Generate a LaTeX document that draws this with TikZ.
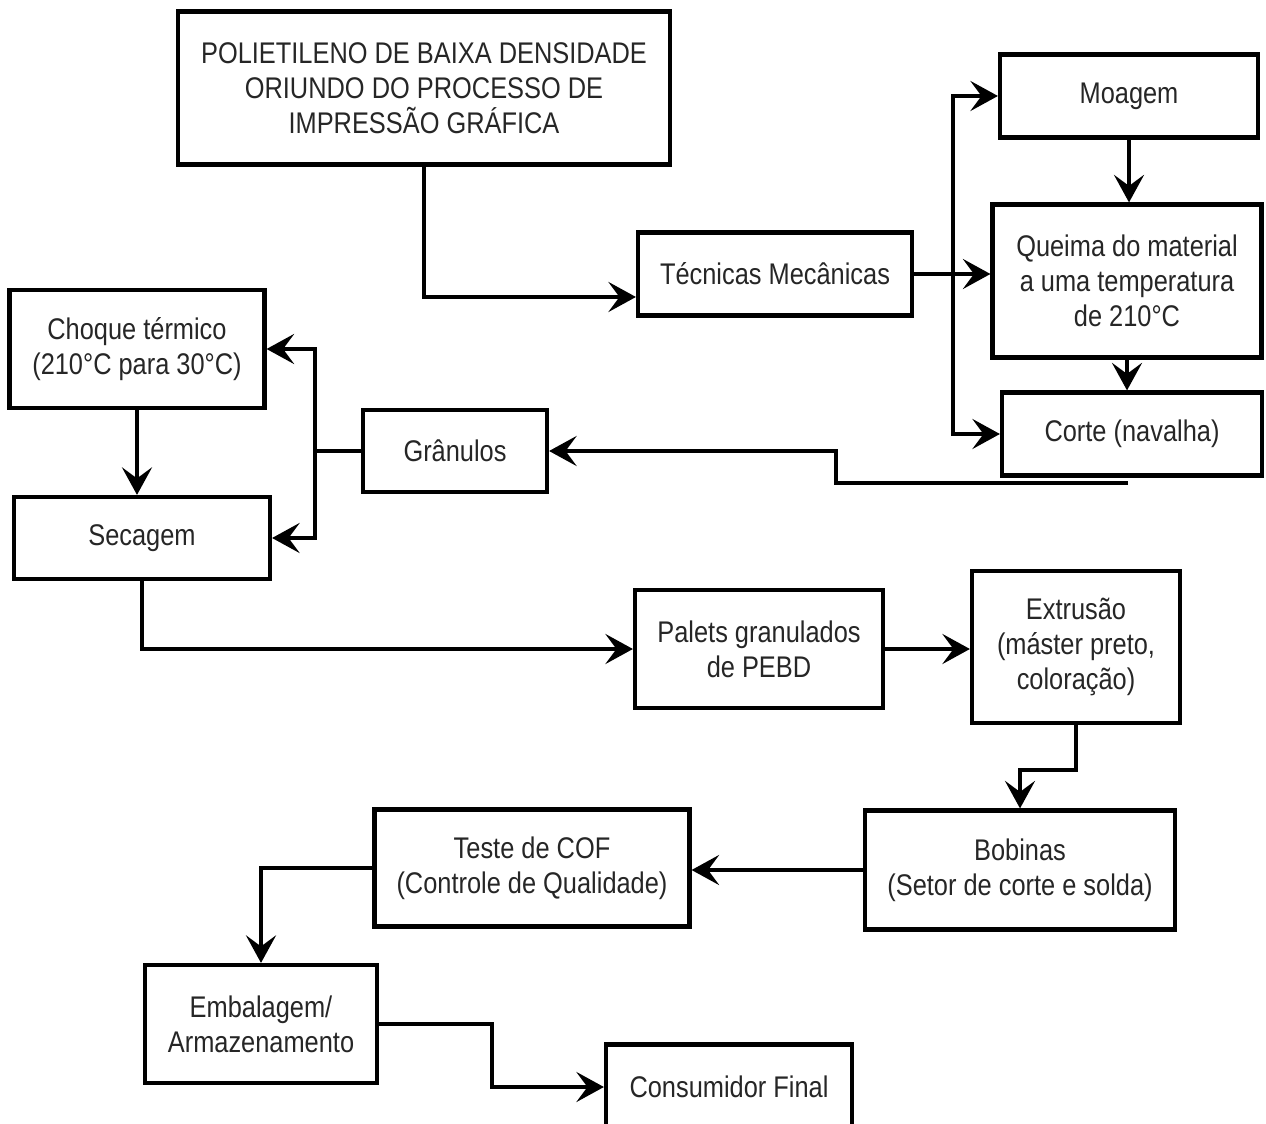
\documentclass[tikz,border=0pt]{standalone}
\usepackage{fontspec}
\setmainfont{Liberation Sans}[FakeStretch=0.85]
\usetikzlibrary{arrows.meta,positioning}
\tikzstyle{block}=[draw, line width=2.4pt, align=center, inner sep=2pt,
  text=black!85, font=\fontsize{17}{20}\selectfont]
\tikzstyle{flow}=[-{Stealth[length=0.55cm,width=0.6cm,inset=0.22cm]},
  line width=2.2pt]

\begin{document}
\begin{tikzpicture}[x=0.02cm, y=-0.02cm]
  \useasboundingbox (0,0) rectangle (1266,1124);

  \node[block, minimum width=9.84cm, minimum height=3.06cm] (poli) at (424,88)
    {POLIETILENO DE BAIXA DENSIDADE\\ORIUNDO DO PROCESSO DE\\IMPRESSÃO GRÁFICA};
  \node[block, minimum width=5.48cm, minimum height=1.66cm] (tec) at (775,274) {Técnicas Mecânicas};
  \node[block, minimum width=5.16cm, minimum height=1.66cm] (moa) at (1129,96) {Moagem};
  \node[block, minimum width=5.38cm, minimum height=3.06cm] (que) at (1127,281)
    {Queima do material\\a uma temperatura\\de 210°C};
  \node[block, minimum width=5.2cm, minimum height=1.66cm] (cor) at (1132,434) {Corte (navalha)};
  \node[block, minimum width=5.1cm, minimum height=2.36cm] (cho) at (137,349)
    {Choque térmico\\(210°C para 30°C)};
  \node[block, minimum width=3.68cm, minimum height=1.64cm] (gra) at (455,451) {Grânulos};
  \node[block, minimum width=5.12cm, minimum height=1.64cm] (sec) at (142,538) {Secagem};
  \node[block, minimum width=4.96cm, minimum height=2.36cm] (pal) at (759,649)
    {Palets granulados\\de PEBD};
  \node[block, minimum width=4.16cm, minimum height=3.04cm] (ext) at (1076,647)
    {Extrusão\\(máster preto,\\coloração)};
  \node[block, minimum width=6.2cm, minimum height=2.38cm] (bob) at (1020,870)
    {Bobinas\\(Setor de corte e solda)};
  \node[block, minimum width=6.3cm, minimum height=2.34cm] (tes) at (532,868)
    {Teste de COF\\(Controle de Qualidade)};
  \node[block, minimum width=4.64cm, minimum height=2.36cm] (emb) at (261,1024)
    {Embalagem/\\Armazenamento};
  \node[block, minimum width=4.92cm, minimum height=1.7cm] (con) at (729,1087) {Consumidor Final};

  % junctions
  \coordinate (j1) at (953,274);
  \coordinate (j2) at (315,451);

  \draw[flow] (poli.south) |- ([yshift=-0.46cm]tec.west);
  \draw[flow] (tec.east) -- (tec.east -| que.west);
  \draw[flow] (j1) |- (moa.west);
  \draw[flow] (j1) |- (cor.west);
  \draw[flow] (moa.south) -- (moa.south |- que.north);
  \draw[flow] (que.south) -- (que.south |- cor.north);
  \draw[flow] ([xshift=-0.08cm,yshift=-0.1cm]cor.south) -- ++(-292,0) |- (gra.east);
  \draw[line width=2.2pt] (gra.west) -- (j2);
  \draw[flow] (j2) |- (cho.east);
  \draw[flow] (j2) |- (sec.east);
  \draw[flow] (cho.south) -- (cho.south |- sec.north);
  \draw[flow] (sec.south) |- (pal.west);
  \draw[flow] (pal.east) -- (pal.east -| ext.west);
  \draw[flow] (ext.south) -- ++(0,45) -| (bob.north);
  \draw[flow] (bob.west) -- (bob.west -| tes.east);
  \draw[flow] (tes.west) -| (emb.north);
  \draw[flow] (emb.east) -- ++(113,0) |- (con.west);
\end{tikzpicture}
\end{document}
